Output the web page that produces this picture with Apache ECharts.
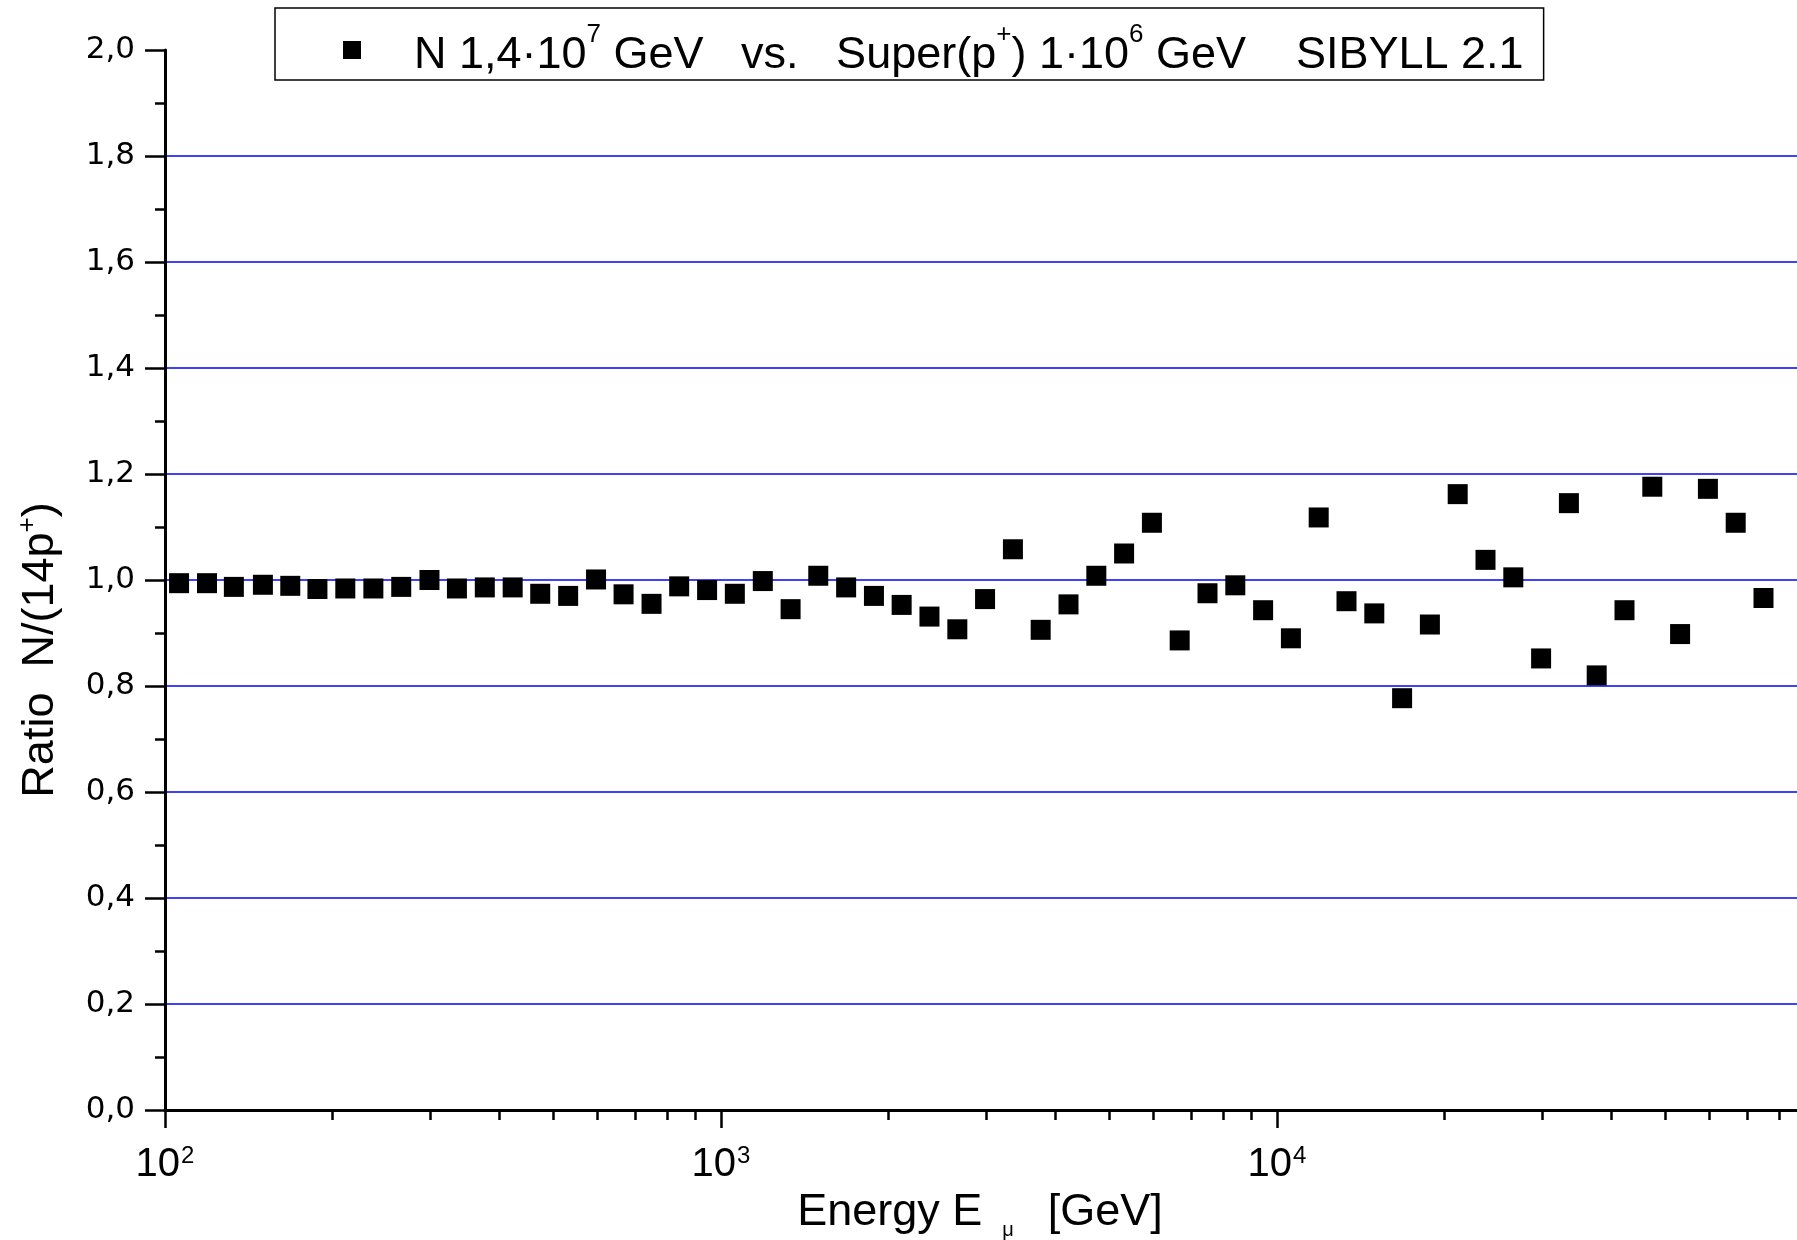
<!DOCTYPE html>
<html><head><meta charset="utf-8">
<script src="https://cdn.jsdelivr.net/npm/echarts@6/dist/echarts.min.js"></script>
<style>html,body{margin:0;padding:0;background:#fff}#c{width:1797px;height:1240px}</style>
</head><body><div id="c"></div>
<script>
const energy = [106, 119, 133, 150, 168, 188, 211, 237, 266, 299, 335, 376, 422, 473, 531, 596, 668, 750, 841, 944,
  1059, 1189, 1334, 1496, 1679, 1884, 2113, 2371, 2661, 2985, 3350, 3758, 4217, 4732, 5309, 5957, 6683, 7499, 8414, 9441,
  10593, 11885, 13335, 14962, 16788, 18836, 21135, 23714, 26607, 29854, 33497, 37584, 42170, 47315, 53088, 59566, 66834, 74989];
const ratio = [0.994, 0.994, 0.987, 0.991, 0.989, 0.983, 0.984, 0.984, 0.987, 1.000, 0.984, 0.986, 0.986, 0.974, 0.970, 1.001, 0.973, 0.955, 0.988, 0.981,
  0.974, 0.998, 0.945, 1.008, 0.986, 0.970, 0.953, 0.931, 0.907, 0.964, 1.058, 0.906, 0.954, 1.008, 1.050, 1.108, 0.886, 0.975, 0.990, 0.943,
  0.890, 1.118, 0.960, 0.937, 0.777, 0.916, 1.162, 1.038, 1.005, 0.852, 1.145, 0.820, 0.943, 1.176, 0.898, 1.172, 1.108, 0.966];
const xMajorTicks = [100, 1000, 10000, 100000];
const xMajorPowers = ['2', '3', '4', '5'];
const xMinorTicks = [200, 300, 400, 500, 600, 700, 800, 900, 2000, 3000, 4000, 5000, 6000, 7000, 8000, 9000,
  20000, 30000, 40000, 50000, 60000, 70000, 80000, 90000];
const yTickLabels = ['0,0', '0,2', '0,4', '0,6', '0,8', '1,0', '1,2', '1,4', '1,6', '1,8', '2,0'];
const seriesName = 'N 1,4·10^7 GeV vs. Super(p+) 1·10^6 GeV SIBYLL 2.1';

const FONT = "'Liberation Sans', Arial, sans-serif";
const NARROW = "'Liberation Sans Narrow', 'Arial Narrow', 'Liberation Sans', sans-serif";
const WIDE = "'DejaVu Sans', 'Liberation Sans', sans-serif";
const chart = echarts.init(document.getElementById('c'), null, {renderer: 'canvas'});
const pts = energy.map((e, i) => [e, ratio[i]]);

chart.setOption({
  animation: false,
  backgroundColor: '#fff',
  grid: {left: 165, top: 50, bottom: 130, width: 1668, containLabel: false, outerBoundsMode: 'none'},
  legend: {
    show: true,
    left: 275, top: 8,
    orient: 'horizontal',
    icon: 'rect',
    itemWidth: 18, itemHeight: 18,
    padding: [14, 20, 2, 68],
    borderColor: '#000', borderWidth: 1.5,
    backgroundColor: '#fff',
    itemStyle: {color: '#000', opacity: 1},
    selectedMode: false,
    formatter: () => '{f|N 1,4·10}{s|7}{t| GeV   vs.   Super(p}{s|+}{t|) 1·10}{s|6}{t| GeV    SIBYLL 2.1}',
    textStyle: {
      fontFamily: FONT, color: '#000',
      rich: {
        f: {fontFamily: FONT, fontSize: 45, color: '#000', verticalAlign: 'bottom', padding: [8, 0, 0, 48]},
        t: {fontFamily: FONT, fontSize: 45, color: '#000', verticalAlign: 'bottom', padding: [8, 0, 0, 0]},
        s: {fontFamily: FONT, fontSize: 26, color: '#000', verticalAlign: 'bottom', padding: [0, 0, 30, 0]}
      }
    },
    data: [seriesName]
  },
  xAxis: [{
    type: 'log', logBase: 10, min: 100, max: 100000,
    position: 'bottom',
    name: '{t|Energy E}{u|μ}{t|[GeV]}',
    nameLocation: 'middle', nameGap: 76,
    nameTextStyle: {
      fontFamily: FONT, color: '#000', padding: [0, 38, 0, 0],
      rich: {
        t: {fontFamily: FONT, fontSize: 45, color: '#000', verticalAlign: 'top'},
        u: {fontFamily: FONT, fontSize: 20, color: '#000', verticalAlign: 'top', padding: [31, 34, 0, 20]}
      }
    },
    axisLine: {show: true, onZero: false, lineStyle: {color: '#000', width: 3}},
    axisTick: {show: true, inside: false, length: 18, lineStyle: {color: '#000', width: 2.5}, customValues: xMajorTicks},
    axisLabel: {
      show: true, margin: 34, customValues: xMajorTicks, hideOverlap: false,
      formatter: (v) => {
        const i = xMajorTicks.findIndex(t => Math.abs(t - v) / t < 1e-6);
        return i < 0 ? '' : '{b|10}{s|' + xMajorPowers[i] + '}';
      },
      rich: {
        b: {fontFamily: NARROW, fontSize: 40, color: '#000', verticalAlign: 'bottom'},
        s: {fontFamily: NARROW, fontSize: 24, color: '#000', verticalAlign: 'bottom', padding: [0, 0, 17, 1]}
      }
    },
    splitLine: {show: false},
    minorTick: {show: false}
  }, {
    type: 'log', logBase: 10, min: 100, max: 100000,
    position: 'bottom', offset: 0,
    axisLine: {show: false},
    axisTick: {show: true, inside: false, length: 10, lineStyle: {color: '#000', width: 2.5}, customValues: xMinorTicks},
    axisLabel: {show: false},
    splitLine: {show: false}
  }],
  yAxis: {
    type: 'value', min: 0, max: 2, interval: 0.2,
    name: '{t|Ratio  N/(14p}{s|+}{t|)}',
    nameLocation: 'middle', nameGap: 102, nameRotate: 90,
    nameTextStyle: {
      fontFamily: FONT, color: '#000', padding: [0, 140, 0, 0],
      rich: {
        t: {fontFamily: FONT, fontSize: 45, color: '#000', verticalAlign: 'bottom'},
        s: {fontFamily: FONT, fontSize: 26, color: '#000', verticalAlign: 'bottom', padding: [0, 0, 22, 0]}
      }
    },
    axisLine: {show: true, onZero: false, lineStyle: {color: '#000', width: 3}},
    axisTick: {show: true, inside: false, length: 20, lineStyle: {color: '#000', width: 2.5}},
    minorTick: {show: true, splitNumber: 2, length: 10, lineStyle: {color: '#000', width: 2.5}},
    axisLabel: {
      show: true, margin: 30, fontFamily: WIDE, fontSize: 31, color: '#000',
      formatter: (v) => yTickLabels[Math.round(v / 0.2)]
    },
    splitLine: {show: true, showMinLine: false, showMaxLine: false, lineStyle: {color: '#0000ff', width: 1.5}},
    minorSplitLine: {show: false}
  },
  series: [{
    name: seriesName,
    type: 'scatter',
    xAxisIndex: 0, yAxisIndex: 0,
    symbol: 'rect', symbolSize: 20,
    itemStyle: {color: '#000', opacity: 1},
    emphasis: {disabled: true},
    data: pts,
    z: 5
  }]
});
</script>
</body></html>
